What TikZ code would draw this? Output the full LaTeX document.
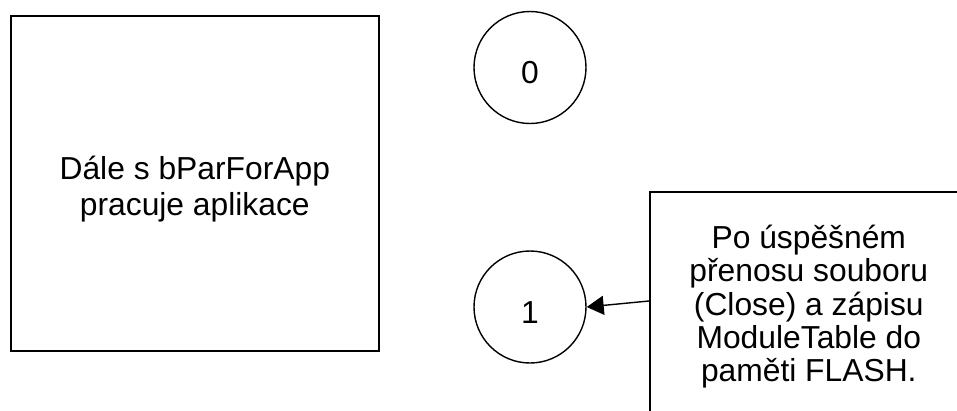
\documentclass[tikz,border=0pt]{standalone}
\usepackage{fontspec}
\setmainfont{Liberation Sans}
\usetikzlibrary{arrows.meta}

\begin{document}
\begin{tikzpicture}[x=1pt, y=-1pt,
  every node/.style={font=\fontsize{31.8}{35.4}\selectfont},
  frame/.style={draw=black, line width=1.6pt, rectangle, inner sep=0pt, align=center},
  state/.style={draw=black, line width=1.4pt, circle, minimum size=112pt, inner sep=0pt,
                text height=32.6pt, text depth=0pt},
  link/.style={draw=black, line width=1.4pt, -{Triangle[length=17pt, width=19pt]}}
]
  \useasboundingbox (0,0) rectangle (957,410);

  % main application block (the strut drops the text slightly below centre)
  \node[frame, minimum width=368pt, minimum height=335pt, anchor=north west]
    (app) at (10,15) {\rule{0pt}{35pt}Dále s bParForApp\\pracuje aplikace};

  % state circles
  \node[state] (s0) at (530,67.5) {0};
  \node[state] (s1) at (530,307) {1};

  % note box describing the transition into state 1
  \node[frame, minimum width=318pt, minimum height=230pt, anchor=north west,
        font=\fontsize{31.8}{33.3}\selectfont]
    (note) at (649,191) {Po úspěšném\\přenosu souboru\\(Close) a zápisu\\ModuleTable do\\paměti FLASH.};

  \coordinate (src) at (note.west |- 0,301);
  \draw[link] (src) -- (s1.east);
\end{tikzpicture}
\end{document}
